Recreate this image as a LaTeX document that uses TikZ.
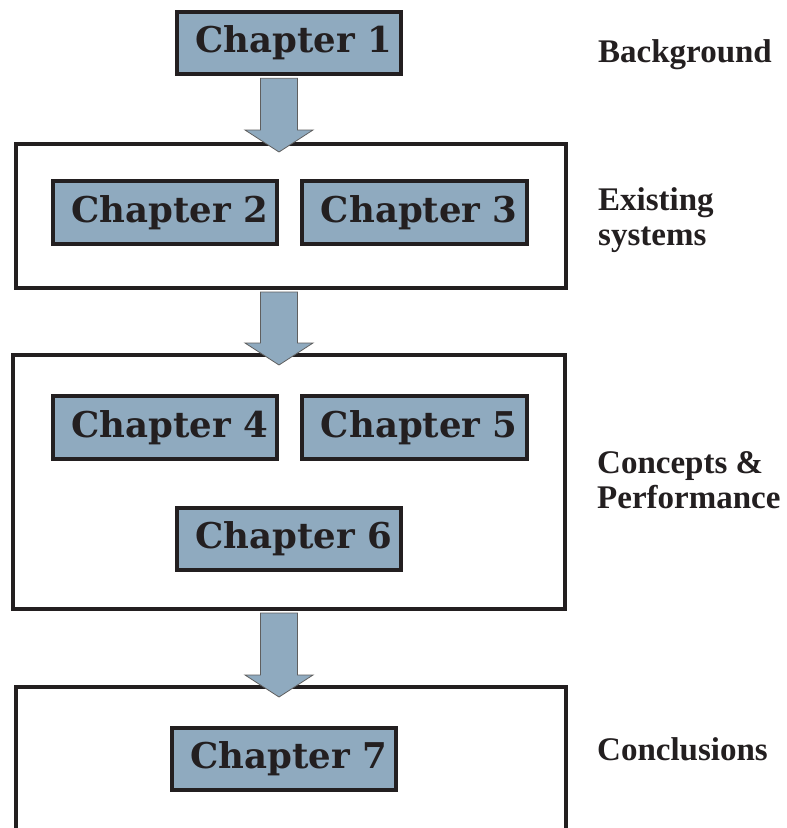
\documentclass[tikz,border=0pt]{standalone}
\usepackage{fontspec}
\setmainfont{Liberation Serif}
\newfontfamily\chapfont{DejaVu Serif}
\usetikzlibrary{calc}
\definecolor{boxblue}{RGB}{143,170,191}
\definecolor{ink}{RGB}{35,31,32}
\definecolor{arrowline}{RGB}{95,95,95}
\newcommand\blockarrow[2]{%
  \draw[barrow] let \p1=(#1.south -| #2), \p2=(#2) in
    (\x1-18.5pt,\y1-2pt) -- (\x1+18.5pt,\y1-2pt) -- (\x1+18.5pt,\y2+22pt)
    -- (\x1+34pt,\y2+22pt) -- (\x2,\y2) -- (\x1-34pt,\y2+22pt)
    -- (\x1-18.5pt,\y2+22pt) -- cycle;}
\begin{document}
\begin{tikzpicture}[x=1pt,y=-1pt,
  chap/.style={draw=ink, line width=4pt, fill=boxblue, minimum width=224.5pt,
    minimum height=62.5pt, inner sep=0pt, text=ink,
    font={\chapfont\bfseries\fontsize{35.5}{40}\selectfont}},
  group/.style={draw=ink, line width=4pt, inner sep=0pt},
  lbl/.style={anchor=base west, inner sep=0pt, text=ink,
    font={\bfseries\fontsize{33}{35.5}\selectfont}},
  barrow/.style={fill=boxblue, draw=arrowline, line width=0.8pt, line join=miter}]
\useasboundingbox (0,0) rectangle (787,828);
\fill[white] (0,0) rectangle (787,828);
\begin{scope}
\clip (0,0) rectangle (787,828);
% group boxes
\node[group, minimum width=550pt, minimum height=144pt] (g2) at (291,216) {};
\node[group, minimum width=552pt, minimum height=254pt] (g3) at (289,482) {};
\node[group, minimum width=550pt, minimum height=213.5pt] (g4) at (291,793.25) {};
% tip coordinates
\coordinate (t1) at (279,152);
\coordinate (t2) at (279,365);
\coordinate (t3) at (279,697);
% chapter boxes
\node[chap] (c1) at (289,43) {\hspace*{10pt}Chapter 1};
\node[chap] (c2) at (164.75,212.25) {\hspace*{10pt}Chapter 2};
\node[chap] (c3) at (414.25,212.25) {\hspace*{10pt}Chapter 3};
\node[chap] (c4) at (164.75,427.25) {\hspace*{10pt}Chapter 4};
\node[chap] (c5) at (414.25,427.25) {\hspace*{10pt}Chapter 5};
\node[chap] (c6) at (289,539) {\hspace*{10pt}Chapter 6};
\node[chap] (c7) at (284,759) {\hspace*{10pt}Chapter 7};
% arrows
\blockarrow{c1}{t1}
\blockarrow{g2}{t2}
\blockarrow{g3}{t3}
\end{scope}
% labels
\node[lbl] (l1) at (598,62.5) {Background};
\node[lbl] (l2a) at (598,210) {Existing};
\node[lbl] (l2b) at (598,245.5) {systems};
\node[lbl] (l3a) at (597,473) {Concepts \&};
\node[lbl] (l3b) at (597,508) {Performance};
\node[lbl] (l4) at (597,760) {Conclusions};
\end{tikzpicture}
\end{document}
